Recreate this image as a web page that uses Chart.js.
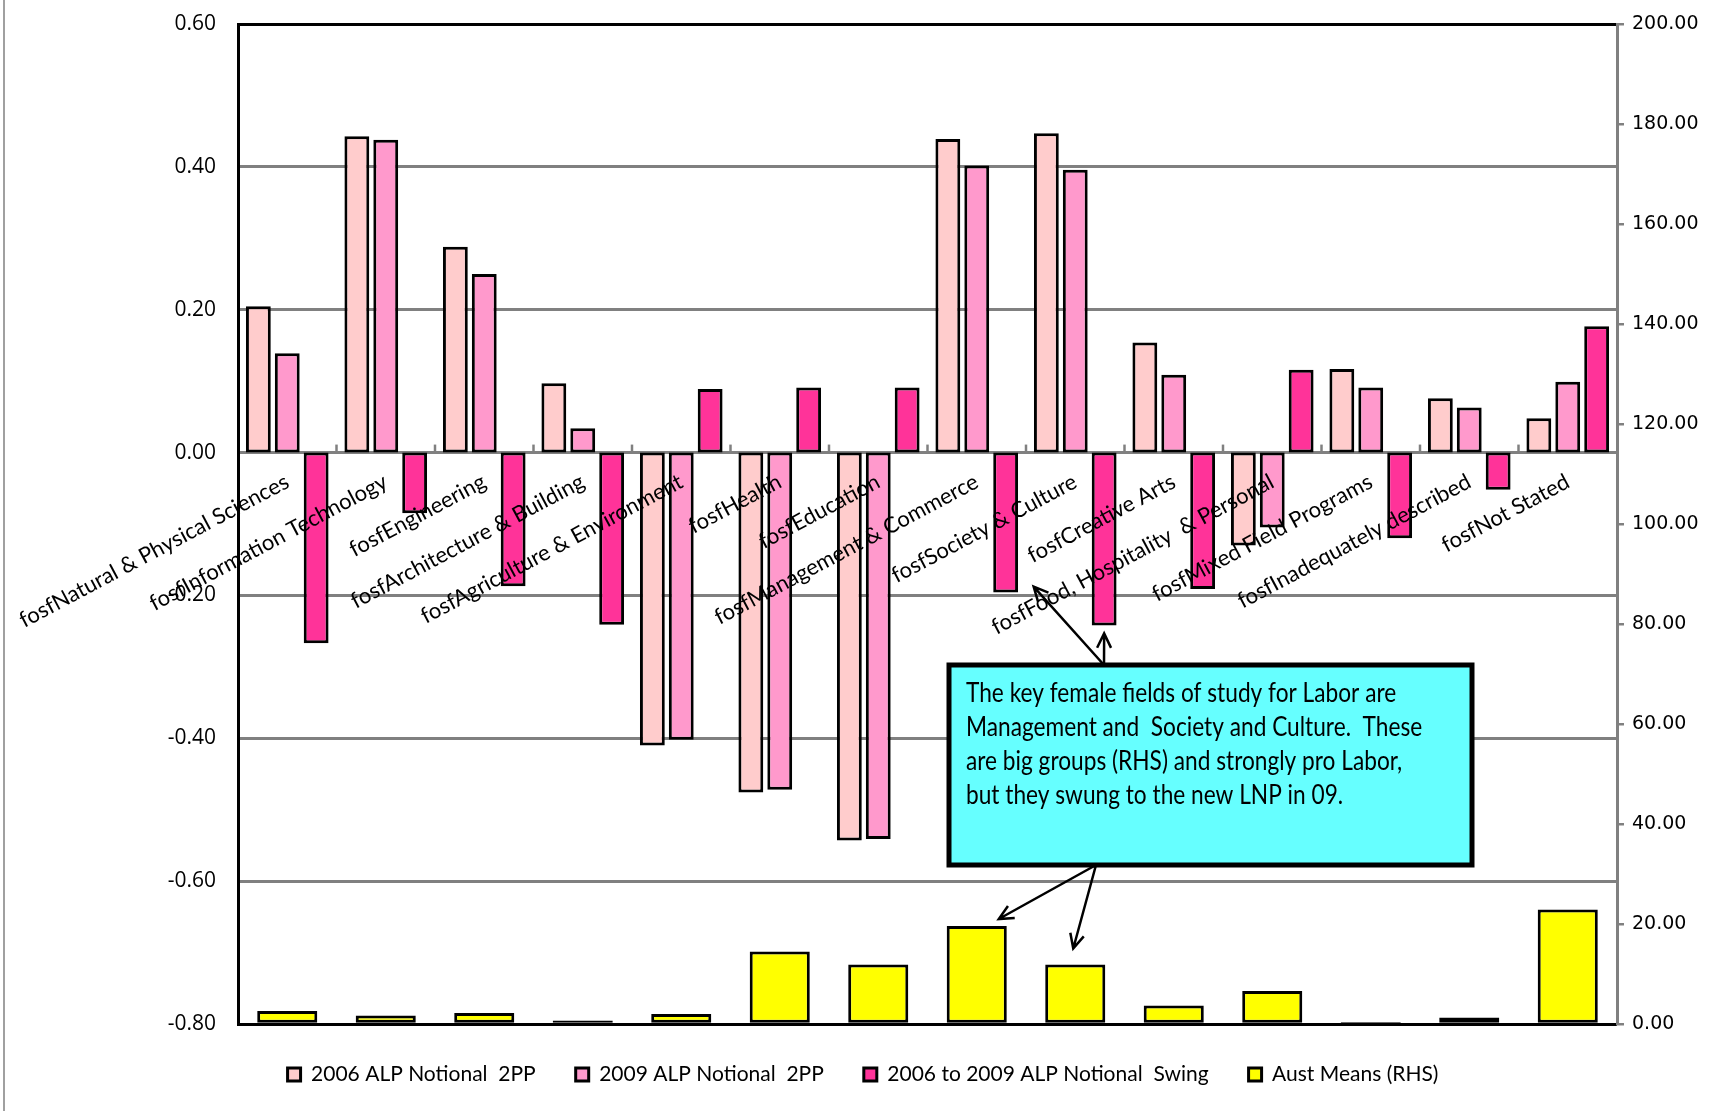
<!DOCTYPE html>
<html>
<head>
<meta charset="utf-8">
<title>ALP Notional 2PP by field of study</title>
<script src="https://cdn.jsdelivr.net/npm/chart.js@4.4.1/dist/chart.umd.min.js"></script>
<style>
  html, body { margin: 0; padding: 0; background: #fff; }
  #wrap { position: relative; width: 1726px; height: 1111px; }
  #wrap::before { content: ""; position: absolute; left: 3px; top: 0; bottom: 0; border-left: 2px solid #a0a0a0; }
</style>
</head>
<body>
<div id="wrap"><canvas id="grafico" width="1726" height="1111"></canvas></div>
<script>
// fields of study
const categories = [
  "fosfNatural & Physical Sciences",
  "fosfInformation Technology",
  "fosfEngineering",
  "fosfArchitecture & Building",
  "fosfAgriculture & Environment",
  "fosfHealth",
  "fosfEducation",
  "fosfManagement & Commerce",
  "fosfSociety & Culture",
  "fosfCreative Arts",
  "fosfFood, Hospitality  & Personal",
  "fosfMixed Field Programs",
  "fosfInadequately described",
  "fosfNot Stated"
];

// left axis series
const alp2006 = [0.205, 0.443, 0.288, 0.097, -0.410, -0.476, -0.543, 0.439, 0.447, 0.154, -0.130, 0.117, 0.076, 0.048];
const alp2009 = [0.139, 0.438, 0.250, 0.034, -0.402, -0.472, -0.541, 0.402, 0.396, 0.109, -0.105, 0.091, 0.063, 0.099];
const swing0609 = [-0.267, -0.085, -0.187, -0.241, 0.089, 0.091, 0.091, -0.196, -0.242, -0.191, 0.116, -0.120, -0.052, 0.177];

// right axis series
const austMeans = [2.6, 1.7, 2.2, 0.7, 2.0, 14.5, 11.9, 19.6, 11.9, 3.7, 6.6, 0.4, 1.3, 22.9];

// axis ranges
const leftMin = -0.8, leftMax = 0.6, leftStep = 0.2;
const rightMin = 0, rightMax = 200, rightStep = 20;

const noteLines = [
  "The key female fields of study for Labor are",
  "Management and  Society and Culture.  These",
  "are big groups (RHS) and strongly pro Labor,",
  "but they swung to the new LNP in 09."
];

const GRID = "#808080";

function fmt2(v) {
  const n = Math.abs(v) < 1e-9 ? 0 : Number(v);
  return n.toFixed(2);
}

function drawArrow(ctx, x1, y1, x2, y2) {
  const ang = Math.atan2(y2 - y1, x2 - x1);
  const head = 16;
  ctx.beginPath();
  ctx.moveTo(x1, y1);
  ctx.lineTo(x2, y2);
  ctx.moveTo(x2 - head * Math.cos(ang - 0.45), y2 - head * Math.sin(ang - 0.45));
  ctx.lineTo(x2, y2);
  ctx.lineTo(x2 - head * Math.cos(ang + 0.45), y2 - head * Math.sin(ang + 0.45));
  ctx.stroke();
}

// small category ticks sitting on the zero line
const zeroTicks = {
  id: "zeroTicks",
  afterDatasetsDraw(chart) {
    const { ctx } = chart;
    const x = chart.scales.x;
    const y0 = chart.scales.y.getPixelForValue(0);
    const step = (x.right - x.left) / categories.length;
    ctx.save();
    ctx.strokeStyle = GRID;
    ctx.lineWidth = 2.5;
    for (let i = 1; i < categories.length; i++) {
      const px = x.left + i * step;
      ctx.beginPath();
      ctx.moveTo(px, y0 - 8);
      ctx.lineTo(px, y0);
      ctx.stroke();
    }
    ctx.restore();
  }
};

// callout box with arrows to Management and Society
const note = {
  id: "note",
  afterDraw(chart) {
    const { ctx } = chart;
    const box = { x: 949, y: 665, w: 523, h: 200 };
    const swingBars = chart.getDatasetMeta(2).data;
    const meanBars = chart.getDatasetMeta(3).data;
    const mgmt = 7, soc = 8;

    ctx.save();
    ctx.strokeStyle = "#000";
    ctx.lineWidth = 2.5;
    const topX = 1104;
    drawArrow(ctx, topX, box.y, swingBars[mgmt].x + 28, swingBars[mgmt].y - 6);
    drawArrow(ctx, topX, box.y, swingBars[soc].x, swingBars[soc].y + 8);
    const botX = 1096;
    drawArrow(ctx, botX, box.y + box.h, meanBars[mgmt].x + 22, meanBars[mgmt].y - 7);
    drawArrow(ctx, botX, box.y + box.h, meanBars[soc].x - 2, meanBars[soc].y - 16);

    ctx.fillStyle = "#66FFFF";
    ctx.fillRect(box.x, box.y, box.w, box.h);
    ctx.lineWidth = 5;
    ctx.strokeRect(box.x, box.y, box.w, box.h);

    // narrow lettering: squeeze Lato horizontally
    ctx.fillStyle = "#000";
    ctx.font = "27px Lato, sans-serif";
    ctx.textBaseline = "middle";
    noteLines.forEach((line, i) => {
      ctx.save();
      ctx.translate(box.x + 17, box.y + 28 + i * 34);
      ctx.scale(0.84, 1);
      ctx.fillText(line, 0, 0);
      ctx.restore();
    });
    ctx.restore();
  }
};

const ctx = document.getElementById("grafico").getContext("2d");

new Chart(ctx, {
  type: "bar",
  data: {
    labels: categories,
    datasets: [
      {
        label: "2006 ALP Notional  2PP",
        data: alp2006,
        backgroundColor: "#FFCCCC",
        yAxisID: "y",
        categoryPercentage: 0.88, barPercentage: 0.86
      },
      {
        label: "2009 ALP Notional  2PP",
        data: alp2009,
        backgroundColor: "#FF99CC",
        yAxisID: "y",
        categoryPercentage: 0.88, barPercentage: 0.86
      },
      {
        label: "2006 to 2009 ALP Notional  Swing",
        data: swing0609,
        backgroundColor: "#FF3399",
        yAxisID: "y",
        categoryPercentage: 0.88, barPercentage: 0.86
      },
      {
        label: "Aust Means (RHS)",
        data: austMeans,
        backgroundColor: "#FFFF00",
        yAxisID: "y2",
        grouped: false,
        categoryPercentage: 0.61, barPercentage: 1.0
      }
    ]
  },
  options: {
    responsive: false,
    animation: false,
    layout: { padding: { left: 0, right: 0, top: 24, bottom: 16 } },
    datasets: {
      bar: { borderColor: "#000", borderWidth: 3, borderSkipped: false }
    },
    plugins: {
      tooltip: { enabled: false },
      legend: {
        position: "bottom",
        labels: {
          boxWidth: 13,
          boxHeight: 13,
          padding: 40,
          color: "#000",
          font: { family: "Lato, sans-serif", size: 21 }
        }
      }
    },
    scales: {
      x: {
        type: "category",
        position: { y: 0 },
        offset: true,
        grid: { display: false },
        border: { display: false },
        ticks: {
          z: 1,
          autoSkip: false,
          minRotation: 28,
          maxRotation: 28,
          padding: 8,
          color: "#000",
          font: { family: "Lato, sans-serif", size: 22 }
        }
      },
      y: {
        position: "left",
        min: leftMin,
        max: leftMax,
        afterFit(scale) { scale.width = 238; },
        grid: {
          drawTicks: true,
          tickLength: 20,
          tickColor: "rgba(0,0,0,0)",
          lineWidth: 3,
          color: c => (Math.abs(c.tick.value - leftMax) < 1e-6 || Math.abs(c.tick.value - leftMin) < 1e-6) ? "#000" : GRID
        },
        border: { color: "#000", width: 3 },
        ticks: {
          stepSize: leftStep,
          padding: 2,
          color: "#000",
          font: { family: "'Open Sans', sans-serif", size: 21 },
          callback: v => fmt2(v)
        }
      },
      y2: {
        position: "right",
        min: rightMin,
        max: rightMax,
        afterFit(scale) { scale.width = 109; },
        grid: { drawOnChartArea: false, tickLength: 7, color: GRID, lineWidth: 2.5 },
        border: { color: GRID, width: 3 },
        ticks: {
          stepSize: rightStep,
          padding: 8,
          color: "#000",
          font: { family: "'DejaVu Sans', sans-serif", size: 19 },
          callback: v => fmt2(v)
        }
      }
    }
  },
  plugins: [zeroTicks, note]
});
</script>
</body>
</html>
